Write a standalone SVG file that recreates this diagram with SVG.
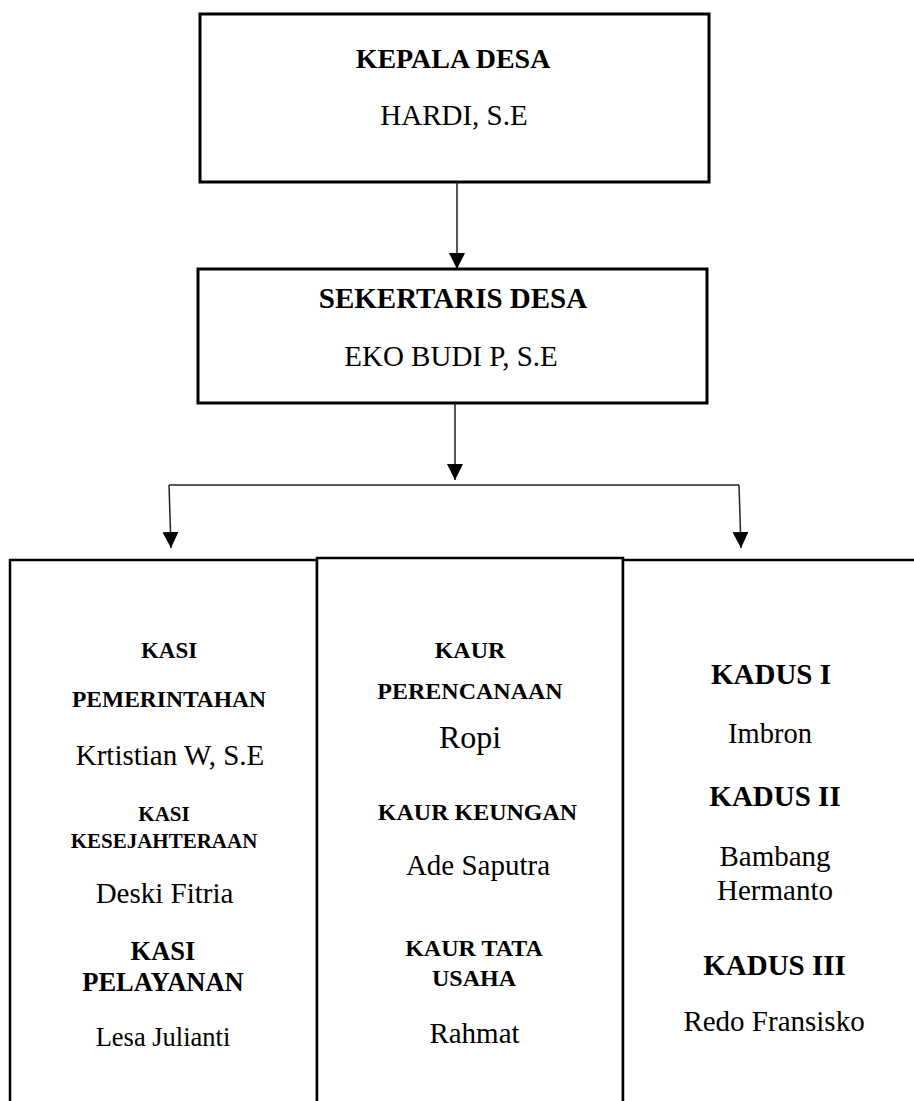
<svg xmlns="http://www.w3.org/2000/svg" width="914" height="1101" viewBox="0 0 914 1101">
<defs>
<style>
.box{fill:#fff;stroke:#000;stroke-width:3}
.bbox{fill:#fff;stroke:#000;stroke-width:2.5}
.con{fill:none;stroke:#222;stroke-width:1.5}
text{font-family:"Liberation Serif","Times New Roman",serif;fill:#000;text-anchor:middle}
.b{font-weight:bold}
</style>
<marker id="arr" viewBox="0 0 16 16" refX="16" refY="8" markerWidth="16" markerHeight="16" markerUnits="userSpaceOnUse" orient="auto">
<path d="M0,0 L16,8 L0,16 z" fill="#000"/>
</marker>
</defs>
<rect width="914" height="1101" fill="#fff"/>

<g id="kepala-desa">
<rect class="box" x="200" y="14" width="509" height="168"/>
<text class="b" x="453" y="68" font-size="28">KEPALA DESA</text>
<text x="454" y="125" font-size="29">HARDI, S.E</text>
</g>

<g id="sekertaris-desa">
<rect class="box" x="198" y="269" width="509" height="134"/>
<text class="b" x="453" y="308" font-size="29">SEKERTARIS DESA</text>
<text x="451" y="366" font-size="29">EKO BUDI P, S.E</text>
</g>

<g id="kasi">
<rect class="bbox" x="10" y="560" width="307" height="600"/>
<text class="b" x="169" y="658" font-size="23">KASI</text>
<text class="b" x="169" y="707" font-size="23.5">PEMERINTAHAN</text>
<text x="170" y="765" font-size="29">Krtistian W, S.E</text>
<text class="b" x="164" y="821" font-size="21">KASI</text>
<text class="b" x="164" y="848" font-size="21">KESEJAHTERAAN</text>
<text x="164.5" y="903" font-size="29">Deski Fitria</text>
<text class="b" x="163" y="960" font-size="26.5">KASI</text>
<text class="b" x="163" y="991" font-size="26.5">PELAYANAN</text>
<text x="163" y="1046" font-size="26.5">Lesa Julianti</text>
</g>

<g id="kaur">
<rect class="bbox" x="317" y="558" width="306" height="600"/>
<text class="b" x="470" y="658" font-size="24">KAUR</text>
<text class="b" x="470" y="699" font-size="24">PERENCANAAN</text>
<text x="470" y="748" font-size="32">Ropi</text>
<text class="b" x="477.5" y="820" font-size="24">KAUR KEUNGAN</text>
<text x="478" y="875" font-size="29">Ade Saputra</text>
<text class="b" x="474" y="956" font-size="24">KAUR TATA</text>
<text class="b" x="474" y="986" font-size="24">USAHA</text>
<text x="474.5" y="1043" font-size="29">Rahmat</text>
</g>

<g id="kadus">
<rect class="bbox" x="623" y="560" width="310" height="600"/>
<text class="b" x="771" y="684" font-size="29">KADUS I</text>
<text x="770" y="743" font-size="28.5">Imbron</text>
<text class="b" x="775" y="806" font-size="29">KADUS II</text>
<text x="775" y="866" font-size="29">Bambang</text>
<text x="775" y="900" font-size="29">Hermanto</text>
<text class="b" x="774.5" y="975" font-size="29">KADUS III</text>
<text x="774" y="1031" font-size="29">Redo Fransisko</text>
</g>

<g id="connectors">
<line class="con" x1="457" y1="182" x2="457" y2="269" marker-end="url(#arr)"/>
<line class="con" x1="455" y1="403" x2="455" y2="480" marker-end="url(#arr)"/>
<polyline class="con" points="169,485 739,485"/>
<line class="con" x1="169" y1="485" x2="171" y2="548" marker-end="url(#arr)"/>
<line class="con" x1="739" y1="485" x2="741" y2="548" marker-end="url(#arr)"/>
</g>
</svg>
